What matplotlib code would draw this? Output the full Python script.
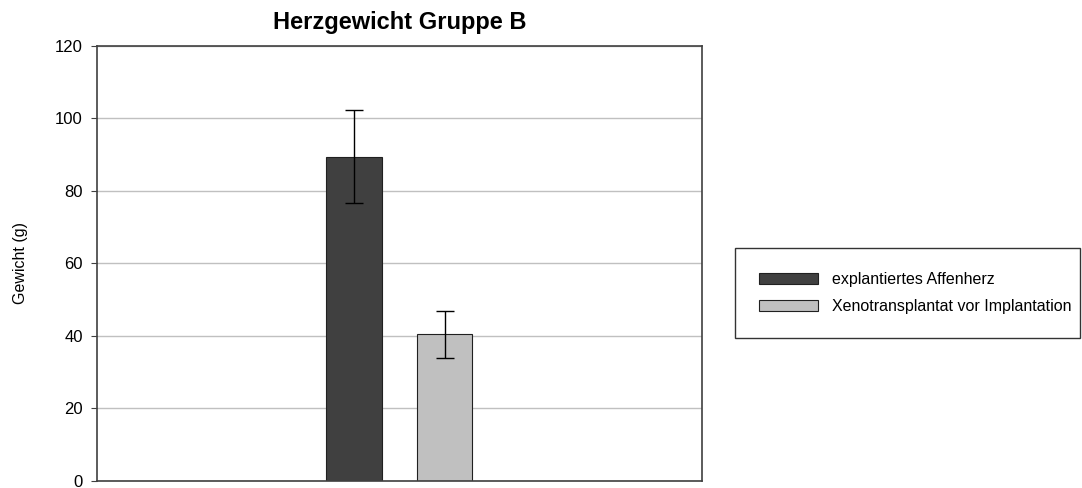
import matplotlib.pyplot as plt
import numpy as np

plt.rcParams['font.family'] = ['Liberation Sans', 'DejaVu Sans']

# data
series = ['explantiertes Affenherz', 'Xenotransplantat vor Implantation']
means = [89.4, 40.4]
errors = [12.7, 6.4]
colors = ['#404040', '#c0c0c0']
yticks = [0, 20, 40, 60, 80, 100, 120]

fig = plt.figure(figsize=(10.82, 4.88), dpi=100)
ax = fig.add_axes([0.0894, 0.0143, 0.5594, 0.8924])

offsets = [-0.075, 0.075]
for i in range(len(series)):
    ax.bar(offsets[i], means[i], width=0.091, color=colors[i],
           edgecolor='#202020', linewidth=0.8, label=series[i], zorder=2)
    ax.errorbar(offsets[i], means[i], yerr=errors[i], fmt='none',
                ecolor='black', elinewidth=1, capsize=6.5, capthick=1, zorder=3)

ax.set_xlim(-0.5, 0.5)
ax.set_ylim(0, 120)
ax.set_yticks(yticks)
ax.set_xticks([])
ax.yaxis.grid(True, color='#c0c0c0', linewidth=1)
ax.set_axisbelow(True)
ax.tick_params(axis='y', length=4.5, pad=5.5, labelsize=12, color='#404040')
for s in ax.spines.values():
    s.set_color('#404040')
    s.set_linewidth(1.2)
ax.set_ylabel('Gewicht (g)', fontsize=11.5)
ax.yaxis.set_label_coords(-0.113, 0.5)
ax.set_title('Herzgewicht Gruppe B', fontsize=17, fontweight='bold', pad=12)

leg = fig.legend(loc='center', bbox_to_anchor=(0.6793, 0.3074, 0.3188, 0.1844),
                 mode='expand', frameon=True, fancybox=False, fontsize=11.5,
                 handlelength=3.7, handleheight=0.75, handletextpad=0.9,
                 labelspacing=0.75, borderpad=1.5, borderaxespad=0)
leg.get_frame().set_edgecolor('black')
leg.get_frame().set_linewidth(1)

fig.savefig('out.png', dpi=100)
